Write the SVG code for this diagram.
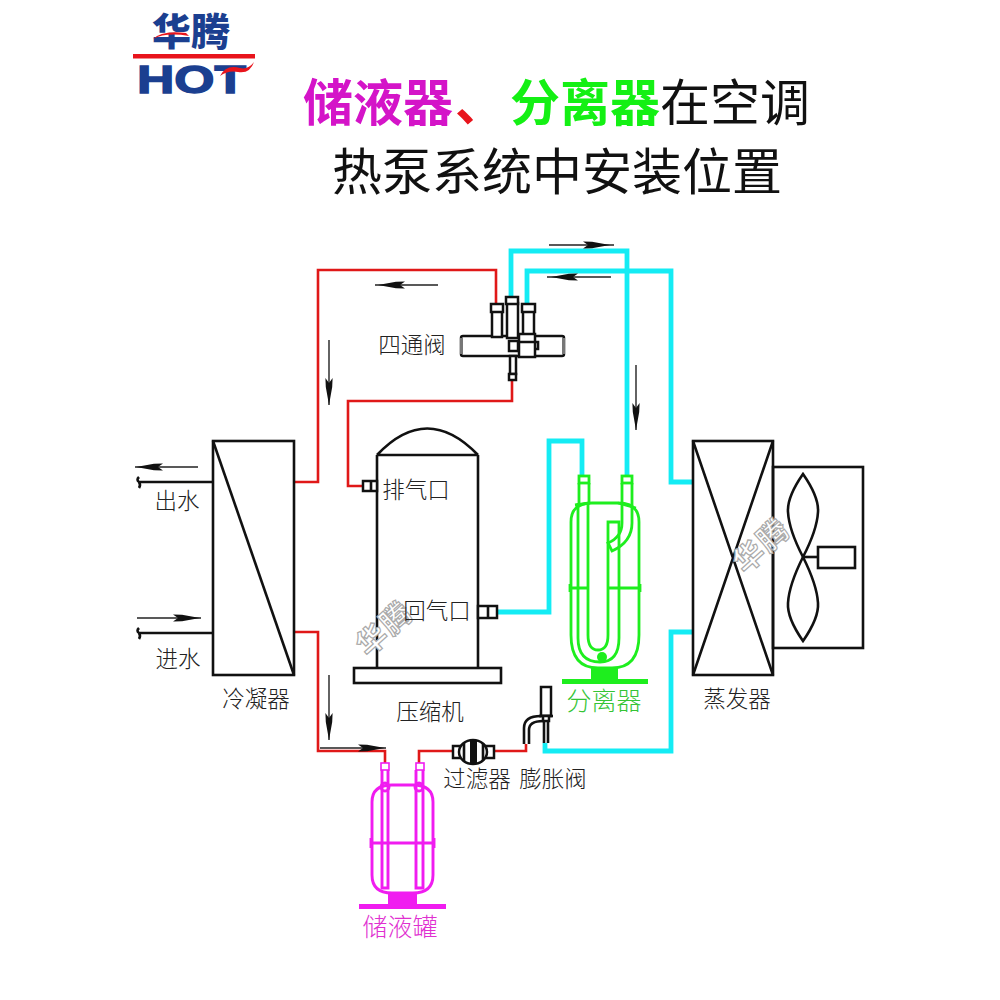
<svg xmlns="http://www.w3.org/2000/svg" width="1000" height="1000" viewBox="0 0 1000 1000">
<style>
text{font-family:"Noto Sans CJK SC","Noto Sans CJK JP",sans-serif}
.lb{font-size:22.5px;fill:#222;font-weight:300;text-anchor:middle}
.lbg{font-size:25px;fill:#35c435;font-weight:300;text-anchor:middle}
.lbm{font-size:25px;fill:#e030d0;font-weight:300;text-anchor:middle}
.t{font-size:50px}
.k{fill:none;stroke:#111;stroke-width:2.6}
.kw{fill:#fff;stroke:#111;stroke-width:2.5}
.r{fill:none;stroke:#e01818;stroke-width:2.6}
.c{fill:none;stroke:#14ecf4;stroke-width:4.8}
.g{fill:none;stroke:#1eee1e;stroke-width:2.8}
.gf{fill:#1eee1e}
.m{fill:none;stroke:#f01cf0;stroke-width:2.9}
.mf{fill:#f01cf0}
.ar{stroke:#222;stroke-width:1.4;fill:none}
.wm{font-size:30px;font-weight:700;fill:#fff;stroke:#aaa;stroke-width:1.2;text-anchor:middle}
</style>
<defs>
<path id="hr" d="M-27,-3.6 L-22,0 L-27,3.6 L-18,3.2 L0,0 L-18,-3.2 Z" fill="#111"/>
</defs>
<g id="logo">
<text x="191" y="45" font-size="38" font-weight="900" fill="#1b3f90" text-anchor="middle" textLength="78" lengthAdjust="spacingAndGlyphs">华腾</text>
<rect x="133" y="54" width="122" height="4.5" fill="#e8141c"/>
<text x="137" y="93" font-size="38" font-weight="900" fill="#1b3f90" stroke="#1b3f90" stroke-width="1.4" style="font-family:'Liberation Sans',sans-serif" textLength="109" lengthAdjust="spacingAndGlyphs">HOT</text>
<path d="M220,76 Q226,64 240,68 Q248,70 254,62 Q250,74 238,72 Q228,70 220,76Z" fill="#e8141c"/>
<path d="M153,39 Q162,30 186,33 L189,36 Q166,32 153,39Z" fill="#e8141c"/>
</g>
<g id="title">
<text x="303" y="121" class="t" font-weight="700" fill="#d414c8">储液器</text>
<text x="455" y="121" class="t" font-weight="700" fill="#e8141c">、</text>
<text x="510" y="121" class="t" font-weight="700" fill="#14f014">分离器</text>
<text x="660" y="121" class="t" fill="#111">在空调</text>
<text x="332" y="190" class="t" fill="#111">热泵系统中安装位置</text>
</g>
<g id="connectors">
<path class="r" d="M294,482H318V270H496V304"/>
<path class="r" d="M294,632H318V751H385V763"/>
<path class="r" d="M419,763V751H453"/>
<path class="r" d="M495,751H526V744"/>
<path class="r" d="M512,380V401H348V486H363"/>
<path class="c" d="M545,743V751H671V632H693"/>
<path class="c" d="M693,482H671V271H527V304"/>
<path class="c" d="M511,298V251H627V476"/>
<path class="c" d="M582,476V441H549V612H497"/>
<g id="flow-arrows">
<path class="ar" d="M549,245H614"/><use href="#hr" transform="translate(610,245)"/>
<path class="ar" d="M547,277H611"/><use href="#hr" transform="translate(551,277) rotate(180)"/>
<path class="ar" d="M375,285H438"/><use href="#hr" transform="translate(378,285) rotate(180)"/>
<path class="ar" d="M636,365V430"/><use href="#hr" transform="translate(636,430) rotate(90)"/>
<path class="ar" d="M329,340V405"/><use href="#hr" transform="translate(329,405) rotate(90)"/>
<path class="ar" d="M329,675V740"/><use href="#hr" transform="translate(329,740) rotate(90)"/>
<path class="ar" d="M320,748H386"/><use href="#hr" transform="translate(385,748)"/>
<path class="ar" d="M135,467H198"/><use href="#hr" transform="translate(136,467) rotate(180)"/>
<path class="ar" d="M137,618H201"/><use href="#hr" transform="translate(200,618)"/>
</g>
<path class="k" d="M213,482H139M139,477Q136,480 139,482Q141,485 139,488"/>
<path class="k" d="M213,633H139M139,628Q136,631 139,633Q141,636 139,639"/>
</g>
<g id="condenser">
<rect class="k" x="213" y="441" width="81" height="234"/>
<path class="k" d="M213,441L294,675"/>
<text class="lb" x="256" y="707">冷凝器</text>
<text class="lb" x="177" y="509">出水</text>
<text class="lb" x="178" y="667">进水</text>
</g>
<g id="compressor">
<path class="k" d="M377,455V668M478,455V668M377,455H478M377,455Q427,402 478,455"/>
<rect class="k" x="354" y="668" width="147" height="15"/>
<rect class="kw" x="363" y="481" width="14" height="10"/>
<path class="k" d="M371,481V491"/>
<rect class="kw" x="478" y="606" width="19" height="12"/>
<path class="k" d="M488,606V618"/>
<text class="wm" transform="translate(391,637) rotate(-42)" textLength="62">华腾</text>
<text class="lb" x="416" y="498">排气口</text>
<text class="lb" x="437" y="619">回气口</text>
<text class="lb" x="430" y="720">压缩机</text>
</g>
<g id="four-way-valve">
<rect class="kw" x="461" y="336" width="103" height="20" rx="2"/>
<rect x="460" y="338" width="3" height="16" fill="#777"/><rect x="562" y="338" width="3" height="16" fill="#777"/>
<rect class="kw" x="492" y="310" width="10" height="27"/>
<rect class="kw" x="491" y="304" width="12" height="8"/>
<rect class="kw" x="507" y="303" width="11" height="35"/>
<rect class="kw" x="506" y="297" width="12" height="7"/>
<rect class="kw" x="523" y="310" width="11" height="26"/>
<rect class="kw" x="522" y="304" width="13" height="8"/>
<rect class="kw" x="519" y="334" width="16" height="23"/>
<path class="k" d="M519,342H535M535,342H538V349H535"/>
<rect class="kw" x="509" y="341" width="9" height="10"/>
<rect class="kw" x="510" y="356" width="6" height="18"/>
<rect class="kw" x="509" y="374" width="7" height="6"/>
<text class="lb" x="412" y="353">四通阀</text>
</g>
<g id="separator">
<path class="g" d="M571,522Q571,503 592,503H618Q639,503 639,522V635Q639,668 612,668H598Q571,668 571,635Z"/>
<path class="g" d="M571,588H588M608,588H639"/>
<path class="g" d="M570,584V592M640,584V592"/>
<path class="g" d="M579,483V503M589,483V503M622,483V503M632,483V503"/>
<rect class="g" x="579" y="476" width="10" height="7"/>
<rect class="g" x="622" y="476" width="10" height="7"/>
<path class="g" d="M578,503V638Q578,662 600,662Q619,662 619,638V540"/>
<path class="g" d="M588,503V635Q588,650 598,650Q608,650 608,635V522H619V540"/>
<path class="g" d="M632,503V523Q632,542 612,551L608,543Q622,537 622,523V503"/>
<path class="g" d="M575,505L590,503M618,503L636,508"/>
<circle class="gf" cx="602" cy="657" r="5"/>
<rect class="gf" x="591" y="668" width="27" height="12"/>
<rect class="gf" x="562" y="679" width="86" height="5"/>
<text class="lbg" x="604" y="710">分离器</text>
</g>
<g id="evaporator">
<rect class="k" x="773" y="467" width="90" height="181"/>
<rect class="k" x="693" y="441" width="80" height="234"/>
<path class="k" d="M693,441L773,675M773,441L693,675"/>
<path class="k" d="M803,474Q787,497 788,512Q789,530 803,557Q817,530 818,512Q819,497 803,474Z"/>
<path class="k" d="M803,641Q787,618 788,603Q789,585 803,557Q817,585 818,603Q819,618 803,641Z"/>
<path class="k" d="M803,557H818"/>
<rect class="k" x="818" y="547" width="37" height="21"/>
<text class="lb" x="737" y="707">蒸发器</text>
<text class="wm" transform="translate(768,554) rotate(-42)" textLength="62">华腾</text>
</g>
<g id="filter">
<rect class="kw" x="453" y="746" width="9" height="12"/>
<rect class="kw" x="485" y="746" width="9" height="12"/>
<ellipse class="kw" cx="473" cy="752" rx="14" ry="12"/>
<rect x="470" y="740" width="7" height="24" fill="#111"/>
<path class="k" d="M464,743V761M483,743V761" stroke-width="1"/>
<text class="lb" x="477" y="787">过滤器</text>
</g>
<g id="expansion-valve">
<rect class="kw" x="541" y="687" width="10" height="29"/>
<path class="k" d="M539,716H553"/>
<rect class="kw" x="543" y="716" width="6" height="5"/>
<path class="k" d="M544,721V743M548,721V743"/>
<path class="k" d="M524,744V728Q524,716 541,716M529,744V730Q529,721 543,721"/>
<text class="lb" x="553" y="787">膨胀阀</text>
</g>
<g id="receiver">
<path class="m" d="M372,802Q372,785 392,785H413Q433,785 433,802V875Q433,893 413,893H392Q372,893 372,875Z"/>
<path class="m" d="M372,843H433M371,838V848M434,838V848"/>
<path class="m" d="M382,770V888H388V770M416,770V888H423V770"/>
<rect class="m" x="381" y="763" width="8" height="7" style="stroke-width:1.6"/>
<rect class="m" x="416" y="763" width="8" height="7" style="stroke-width:1.6"/>
<circle class="m" cx="385" cy="787" r="4"/><circle class="m" cx="419" cy="787" r="4"/>
<rect class="mf" x="388" y="893" width="29" height="12"/>
<rect class="mf" x="359" y="904" width="87" height="5"/>
<text class="lbm" x="400" y="936">储液罐</text>
</g>
</svg>
